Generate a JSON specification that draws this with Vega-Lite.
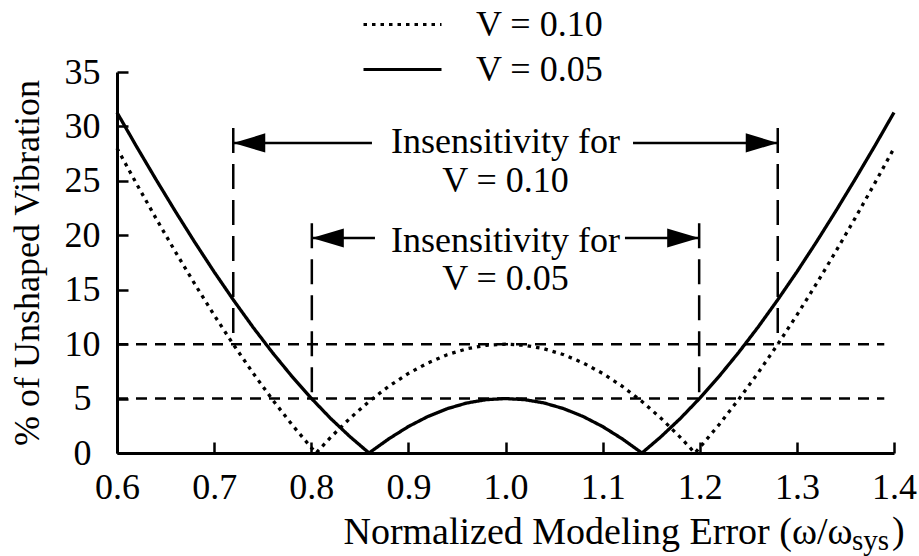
{
  "$schema": "https://vega.github.io/schema/vega-lite/v6.json",
  "width": 777,
  "height": 381,
  "autosize": {"type": "none"},
  "padding": {"left": 117, "top": 72, "right": 25, "bottom": 103},
  "background": "white",
  "config": {
    "view": {"stroke": null},
    "font": "Liberation Serif",
    "axis": {
      "grid": false,
      "domainColor": "black",
      "domainWidth": 3,
      "tickColor": "black",
      "tickWidth": 2.5,
      "tickSize": -11,
      "labelColor": "black",
      "labelFont": "Liberation Serif",
      "labelFontSize": 36,
      "labelFlush": false,
      "labelOverlap": false,
      "titleColor": "black",
      "titleFont": "Liberation Serif",
      "titleFontSize": 36,
      "titleFontWeight": "normal"
    },
    "legend": {
      "orient": "none",
      "legendX": 245,
      "legendY": -70,
      "symbolType": "stroke",
      "symbolSize": 6084,
      "symbolStrokeWidth": 3,
      "symbolStrokeColor": "black",
      "labelFont": "Liberation Serif",
      "labelFontSize": 36,
      "labelColor": "black",
      "labelOffset": 33,
      "clipHeight": 45,
      "rowPadding": 0,
      "padding": 0
    }
  },
  "encoding": {
    "x": {
      "field": "x",
      "type": "quantitative",
      "scale": {"domain": [0.6, 1.4], "nice": false, "zero": false},
      "axis": {
        "values": [0.6, 0.7, 0.8, 0.9, 1.0, 1.1, 1.2, 1.3, 1.4],
        "format": ".1f",
        "labelPadding": 28,
        "title": "Normalized Modeling Error (ω/ω",
        "titleFontSize": 38,
        "titleX": 735,
        "titleY": 90,
        "titleAlign": "right",
        "titleBaseline": "alphabetic"
      }
    },
    "y": {
      "field": "y",
      "type": "quantitative",
      "scale": {"domain": [0, 35], "nice": false},
      "axis": {
        "values": [0, 5, 10, 15, 20, 25, 30, 35],
        "labelAlign": "center",
        "labelBaseline": "middle",
        "labelPadding": 46,
        "title": "% of Unshaped Vibration",
        "titleAngle": -90,
        "titleX": -79,
        "titleY": 190.5,
        "titleAlign": "center",
        "titleBaseline": "alphabetic"
      }
    }
  },
  "layer": [
    {
      "data": {"values": [
        {"x": 0.6, "x2": 1.39, "y": 10},
        {"x": 0.6, "x2": 1.39, "y": 5}
      ]},
      "mark": {"type": "rule", "color": "black", "strokeWidth": 2.5, "strokeDash": [11, 8]},
      "encoding": {"x2": {"field": "x2"}}
    },
    {
      "data": {"values": [
        {"x": 0.7197, "y": 29.85, "y2": 10},
        {"x": 1.2803, "y": 29.85, "y2": 10},
        {"x": 0.8006, "y": 21.1, "y2": 5},
        {"x": 1.1994, "y": 21.1, "y2": 5}
      ]},
      "mark": {"type": "rule", "color": "black", "strokeWidth": 2.5, "strokeDash": [25, 11]},
      "encoding": {"y2": {"field": "y2"}}
    },
    {
      "data": {"values": [
        {"x": 0.7197, "x2": 0.8625, "y": 28.48},
        {"x": 1.1313, "x2": 1.2803, "y": 28.48},
        {"x": 0.8006, "x2": 0.8656, "y": 19.75},
        {"x": 1.123, "x2": 1.1994, "y": 19.75}
      ]},
      "mark": {"type": "rule", "color": "black", "strokeWidth": 2.5},
      "encoding": {"x2": {"field": "x2"}}
    },
    {
      "data": {"values": [
        {"x": 0.7197, "y": 28.48, "dir": "left"},
        {"x": 1.2803, "y": 28.48, "dir": "right"},
        {"x": 0.8006, "y": 19.75, "dir": "left"},
        {"x": 1.1994, "y": 19.75, "dir": "right"}
      ]},
      "mark": {"type": "point", "filled": true, "fill": "black", "stroke": null, "opacity": 1, "size": 1024},
      "encoding": {
        "shape": {
          "field": "dir",
          "type": "nominal",
          "scale": {"domain": ["left", "right"], "range": ["M 0 0 L 2 -0.6 L 2 0.6 Z", "M 0 0 L -2 -0.6 L -2 0.6 Z"]},
          "legend": null
        }
      }
    },
    {
      "data": {"values": [
        {"series": "V = 0.05", "x": 0.60, "y": 31.28},
        {"series": "V = 0.05", "x": 0.62, "y": 28.17},
        {"series": "V = 0.05", "x": 0.64, "y": 25.15},
        {"series": "V = 0.05", "x": 0.66, "y": 22.21},
        {"series": "V = 0.05", "x": 0.68, "y": 19.37},
        {"series": "V = 0.05", "x": 0.70, "y": 16.64},
        {"series": "V = 0.05", "x": 0.72, "y": 14.04},
        {"series": "V = 0.05", "x": 0.74, "y": 11.56},
        {"series": "V = 0.05", "x": 0.76, "y": 9.23},
        {"series": "V = 0.05", "x": 0.78, "y": 7.05},
        {"series": "V = 0.05", "x": 0.80, "y": 5.03},
        {"series": "V = 0.05", "x": 0.82, "y": 3.17},
        {"series": "V = 0.05", "x": 0.84, "y": 1.49},
        {"series": "V = 0.05", "x": 0.8595, "y": 0},
        {"series": "V = 0.05", "x": 0.88, "y": 1.31},
        {"series": "V = 0.05", "x": 0.90, "y": 2.43},
        {"series": "V = 0.05", "x": 0.92, "y": 3.35},
        {"series": "V = 0.05", "x": 0.94, "y": 4.07},
        {"series": "V = 0.05", "x": 0.96, "y": 4.59},
        {"series": "V = 0.05", "x": 0.98, "y": 4.90},
        {"series": "V = 0.05", "x": 1.00, "y": 5.00},
        {"series": "V = 0.05", "x": 1.02, "y": 4.90},
        {"series": "V = 0.05", "x": 1.04, "y": 4.59},
        {"series": "V = 0.05", "x": 1.06, "y": 4.07},
        {"series": "V = 0.05", "x": 1.08, "y": 3.35},
        {"series": "V = 0.05", "x": 1.10, "y": 2.43},
        {"series": "V = 0.05", "x": 1.12, "y": 1.31},
        {"series": "V = 0.05", "x": 1.1405, "y": 0},
        {"series": "V = 0.05", "x": 1.16, "y": 1.49},
        {"series": "V = 0.05", "x": 1.18, "y": 3.17},
        {"series": "V = 0.05", "x": 1.20, "y": 5.03},
        {"series": "V = 0.05", "x": 1.22, "y": 7.05},
        {"series": "V = 0.05", "x": 1.24, "y": 9.23},
        {"series": "V = 0.05", "x": 1.26, "y": 11.56},
        {"series": "V = 0.05", "x": 1.28, "y": 14.04},
        {"series": "V = 0.05", "x": 1.30, "y": 16.64},
        {"series": "V = 0.05", "x": 1.32, "y": 19.37},
        {"series": "V = 0.05", "x": 1.34, "y": 22.21},
        {"series": "V = 0.05", "x": 1.36, "y": 25.15},
        {"series": "V = 0.05", "x": 1.38, "y": 28.17},
        {"series": "V = 0.05", "x": 1.40, "y": 31.28},
        {"series": "V = 0.10", "x": 0.60, "y": 28.00},
        {"series": "V = 0.10", "x": 0.62, "y": 24.75},
        {"series": "V = 0.10", "x": 0.64, "y": 21.58},
        {"series": "V = 0.10", "x": 0.66, "y": 18.50},
        {"series": "V = 0.10", "x": 0.68, "y": 15.53},
        {"series": "V = 0.10", "x": 0.70, "y": 12.67},
        {"series": "V = 0.10", "x": 0.72, "y": 9.94},
        {"series": "V = 0.10", "x": 0.74, "y": 7.35},
        {"series": "V = 0.10", "x": 0.76, "y": 4.91},
        {"series": "V = 0.10", "x": 0.78, "y": 2.62},
        {"series": "V = 0.10", "x": 0.80, "y": 0.50},
        {"series": "V = 0.10", "x": 0.805, "y": 0},
        {"series": "V = 0.10", "x": 0.82, "y": 1.44},
        {"series": "V = 0.10", "x": 0.84, "y": 3.20},
        {"series": "V = 0.10", "x": 0.86, "y": 4.77},
        {"series": "V = 0.10", "x": 0.88, "y": 6.14},
        {"series": "V = 0.10", "x": 0.90, "y": 7.31},
        {"series": "V = 0.10", "x": 0.92, "y": 8.27},
        {"series": "V = 0.10", "x": 0.94, "y": 9.03},
        {"series": "V = 0.10", "x": 0.96, "y": 9.57},
        {"series": "V = 0.10", "x": 0.98, "y": 9.89},
        {"series": "V = 0.10", "x": 1.00, "y": 10.00},
        {"series": "V = 0.10", "x": 1.02, "y": 9.89},
        {"series": "V = 0.10", "x": 1.04, "y": 9.57},
        {"series": "V = 0.10", "x": 1.06, "y": 9.03},
        {"series": "V = 0.10", "x": 1.08, "y": 8.27},
        {"series": "V = 0.10", "x": 1.10, "y": 7.31},
        {"series": "V = 0.10", "x": 1.12, "y": 6.14},
        {"series": "V = 0.10", "x": 1.14, "y": 4.77},
        {"series": "V = 0.10", "x": 1.16, "y": 3.20},
        {"series": "V = 0.10", "x": 1.18, "y": 1.44},
        {"series": "V = 0.10", "x": 1.195, "y": 0},
        {"series": "V = 0.10", "x": 1.20, "y": 0.50},
        {"series": "V = 0.10", "x": 1.22, "y": 2.62},
        {"series": "V = 0.10", "x": 1.24, "y": 4.91},
        {"series": "V = 0.10", "x": 1.26, "y": 7.35},
        {"series": "V = 0.10", "x": 1.28, "y": 9.94},
        {"series": "V = 0.10", "x": 1.30, "y": 12.67},
        {"series": "V = 0.10", "x": 1.32, "y": 15.53},
        {"series": "V = 0.10", "x": 1.34, "y": 18.50},
        {"series": "V = 0.10", "x": 1.36, "y": 21.58},
        {"series": "V = 0.10", "x": 1.38, "y": 24.75},
        {"series": "V = 0.10", "x": 1.40, "y": 28.00}
      ]},
      "mark": {"type": "line", "color": "black", "strokeWidth": 3.3},
      "encoding": {
        "strokeDash": {
          "field": "series",
          "type": "nominal",
          "scale": {"domain": ["V = 0.10", "V = 0.05"], "range": [[3.5, 5], [1, 0]]},
          "legend": {"title": null}
        }
      }
    },
    {
      "data": {"values": [
        {"x": 1.0, "y": 27.56, "label": "Insensitivity for"},
        {"x": 1.0, "y": 23.98, "label": "V = 0.10"},
        {"x": 1.0, "y": 18.46, "label": "Insensitivity for"},
        {"x": 1.0, "y": 14.97, "label": "V = 0.05"}
      ]},
      "mark": {"type": "text", "font": "Liberation Serif", "fontSize": 36, "align": "center", "baseline": "alphabetic", "color": "black"},
      "encoding": {"text": {"field": "label"}}
    },
    {
      "data": {"values": [{"x": 1.3568, "y": -8.9, "label": "sys"}]},
      "mark": {"type": "text", "font": "Liberation Serif", "fontSize": 29, "align": "left", "baseline": "alphabetic", "color": "black"},
      "encoding": {"text": {"field": "label"}}
    },
    {
      "data": {"values": [{"x": 1.3979, "y": -8.27, "label": ")"}]},
      "mark": {"type": "text", "font": "Liberation Serif", "fontSize": 38, "align": "left", "baseline": "alphabetic", "color": "black"},
      "encoding": {"text": {"field": "label"}}
    }
  ]
}
